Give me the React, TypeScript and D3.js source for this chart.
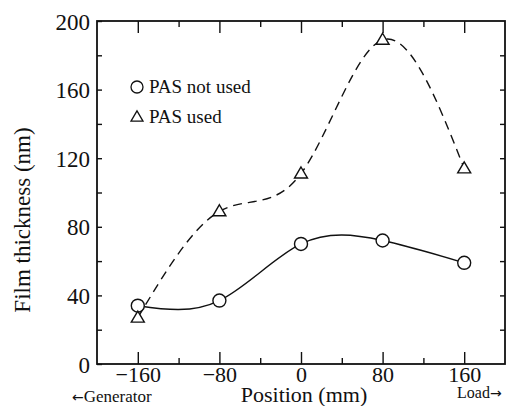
import React, { useEffect, useRef } from 'react';
import * as d3 from 'd3';

// positions along the roll (mm)
const positions = [-160, -80, 0, 80, 160];
// film thickness (nm)
const pasNotUsed = [34, 37, 70, 72, 59];
const pasUsed = [27, 89, 111, 189, 114];

const xMajor = [-160, -80, 0, 80, 160];
const xMinor = [-120, -40, 40, 120];
const yTicks = [0, 20, 40, 60, 80, 100, 120, 140, 160, 180, 200];
const yLabels = [0, 40, 80, 120, 160, 200];

const W = 515, H = 406;
const margin = { top: 21, right: 10, bottom: 42, left: 97 };
const FONT = '"Liberation Serif", "Times New Roman", serif';

export default function App() {
  const gRef = useRef<SVGGElement>(null);

  const x = d3.scaleLinear().domain([-200, 200]).range([margin.left, W - margin.right]);
  const y = d3.scaleLinear().domain([0, 200]).range([H - margin.bottom, margin.top]);

  const line = d3.line<[number, number]>()
    .x(d => x(d[0]))
    .y(d => y(d[1]))
    .curve(d3.curveNatural);

  const solid = line(positions.map((p, i) => [p, pasNotUsed[i]]));
  const dashed = line(positions.map((p, i) => [p, pasUsed[i]]));

  useEffect(() => {
    const g = d3.select(gRef.current);
    g.selectAll('*').remove();

    const style = (sel: any) => {
      sel.select('.domain').remove();
      sel.selectAll('line').attr('stroke', '#111').attr('stroke-width', 1.4);
      sel.selectAll('text').attr('font-family', FONT).attr('fill', '#111');
    };

    // left axis, ticks inward
    g.append('g')
      .attr('transform', `translate(${x(-200)},0)`)
      .call(d3.axisLeft(y).tickValues(yTicks).tickSize(-5).tickPadding(7)
        .tickFormat((d: any) => (yLabels.includes(d) ? String(d) : '')))
      .call(style)
      .selectAll('text').attr('font-size', 23).attr('dy', '0.35em');

    // right axis
    g.append('g')
      .attr('transform', `translate(${x(200)},0)`)
      .call(d3.axisRight(y).tickValues(yTicks.slice(1, -1)).tickSize(-5).tickFormat(() => ''))
      .call(style);

    // bottom major + labels
    g.append('g')
      .attr('transform', `translate(0,${y(0)})`)
      .call(d3.axisBottom(x).tickValues(xMajor).tickSize(-12).tickPadding(2)
        .tickFormat((d: any) => (d < 0 ? '\u2212' + Math.abs(d) : String(d))))
      .call(style)
      .selectAll('text').attr('font-size', 22).attr('dy', '0.71em');
    g.append('g')
      .attr('transform', `translate(0,${y(0)})`)
      .call(d3.axisBottom(x).tickValues(xMinor).tickSize(-6).tickFormat(() => ''))
      .call(style);

    // top ticks
    g.append('g')
      .attr('transform', `translate(0,${y(200)})`)
      .call(d3.axisTop(x).tickValues(xMajor).tickSize(-12).tickFormat(() => ''))
      .call(style);
    g.append('g')
      .attr('transform', `translate(0,${y(200)})`)
      .call(d3.axisTop(x).tickValues(xMinor).tickSize(-6).tickFormat(() => ''))
      .call(style);
  }, []);

  const tri = (cx: number, cy: number, s = 13) => {
    const h = s * 0.85;
    return `M${cx},${cy - h * 0.6}L${cx + s / 2},${cy + h * 0.4}L${cx - s / 2},${cy + h * 0.4}Z`;
  };

  return (
    <svg width={W} height={H} style={{ position: 'absolute', left: 0, top: 0, background: '#fff' }}>
      <rect x={x(-200)} y={y(200)} width={x(200) - x(-200)} height={y(0) - y(200)}
        fill="none" stroke="#111" strokeWidth={1.8} />
      <g ref={gRef} />

      <path d={solid || ''} fill="none" stroke="#111" strokeWidth={1.4} />
      <path d={dashed || ''} fill="none" stroke="#111" strokeWidth={1.4} strokeDasharray="9,6" />

      {positions.map((p, i) => (
        <circle key={'c' + p} cx={x(p)} cy={y(pasNotUsed[i])} r={6.5}
          fill="#fff" stroke="#111" strokeWidth={1.4} />
      ))}
      {positions.map((p, i) => (
        <path key={'t' + p} d={tri(x(p), y(pasUsed[i]))}
          fill="#fff" stroke="#111" strokeWidth={1.4} />
      ))}

      {/* legend */}
      <circle cx={137} cy={87} r={6} fill="#fff" stroke="#111" strokeWidth={1.3} />
      <text x={149} y={93} fontFamily={FONT} fontSize={19} fill="#111">PAS not used</text>
      <path d={tri(137, 117, 12)} fill="#fff" stroke="#111" strokeWidth={1.3} />
      <text x={149} y={123} fontFamily={FONT} fontSize={19} fill="#111">PAS used</text>

      {/* axis titles */}
      <text transform="translate(30,220) rotate(-90)" textAnchor="middle"
        fontFamily={FONT} fontSize={23} fill="#111">Film thickness (nm)</text>
      <text x={304} y={402} textAnchor="middle" fontFamily={FONT} fontSize={22} fill="#111">Position (mm)</text>
      <text x={72} y={402} fontFamily={FONT} fontSize={17} fill="#111">
        <tspan fontFamily='"DejaVu Sans", sans-serif' fontSize={14}>{'\u2190'}</tspan>Generator
      </text>
      <text x={457} y={398} fontFamily={FONT} fontSize={16} fill="#111">
        Load<tspan fontFamily='"DejaVu Sans", sans-serif' fontSize={14}>{'\u2192'}</tspan>
      </text>
    </svg>
  );
}
